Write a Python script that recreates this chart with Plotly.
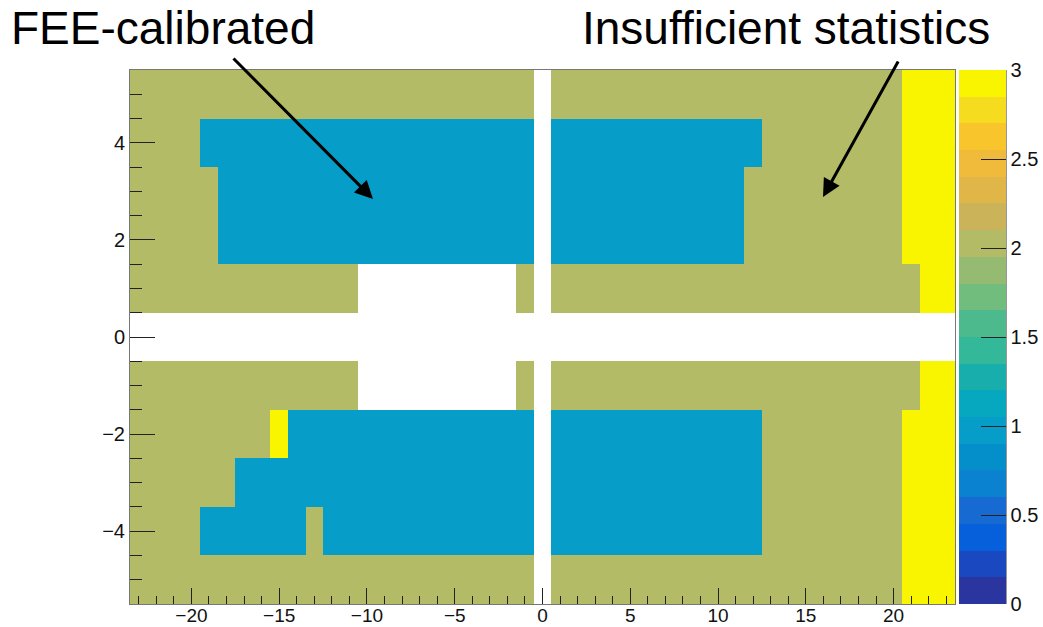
import plotly.graph_objects as go

# Bin centres of the 2D map (47 columns x 11 rows)
x_bins = list(range(-23, 24))
y_bins = list(range(-5, 6))

# Per-row cell states as run lengths along x (from x = -23 to +23),
# listed from y = -5 (first) up to y = +5 (last).
# Codes: '.' empty, 'b' = 1 (FEE-calibrated), 'o' = 2 (insufficient statistics), 'y' = 3
row_runs = [
    [("o", 23), (".", 1), ("o", 20), ("y", 3)],                                  # y = -5
    [("o", 4), ("b", 6), ("o", 1), ("b", 12), (".", 1), ("b", 12), ("o", 8), ("y", 3)],  # y = -4
    [("o", 6), ("b", 17), (".", 1), ("b", 12), ("o", 8), ("y", 3)],             # y = -3
    [("o", 8), ("y", 1), ("b", 14), (".", 1), ("b", 12), ("o", 8), ("y", 3)],   # y = -2
    [("o", 13), (".", 9), ("o", 1), (".", 1), ("o", 21), ("y", 2)],             # y = -1
    [(".", 47)],                                                                 # y = 0
    [("o", 13), (".", 9), ("o", 1), (".", 1), ("o", 21), ("y", 2)],             # y = 1
    [("o", 5), ("b", 18), (".", 1), ("b", 11), ("o", 9), ("y", 3)],             # y = 2
    [("o", 5), ("b", 18), (".", 1), ("b", 11), ("o", 9), ("y", 3)],             # y = 3
    [("o", 4), ("b", 19), (".", 1), ("b", 12), ("o", 8), ("y", 3)],             # y = 4
    [("o", 23), (".", 1), ("o", 20), ("y", 3)],                                  # y = 5
]
code_value = {".": None, "b": 1, "o": 2, "y": 3}

z_values = []
for runs in row_runs:
    row = []
    for code, count in runs:
        row.extend([code_value[code]] * count)
    assert len(row) == len(x_bins)
    z_values.append(row)

# Colour-bar tick labels
cbar_ticks = [0, 0.5, 1, 1.5, 2, 2.5, 3]
x_major = [-20, -15, -10, -5, 0, 5, 10, 15, 20]
y_major = [-4, -2, 0, 2, 4]

# 20-level stepped palette from 0 to 3
band_colors = [
    "#2a35a0", "#1948c0", "#0660dc", "#176ad2", "#0a82cf",
    "#058fca", "#069dc8", "#05a8bf", "#17aeab", "#33b99a",
    "#4cba8c", "#71bd7e", "#95bb72", "#b3bb66", "#cab358",
    "#e0b648", "#f0ba3a", "#f8c62c", "#f6dc1e", "#f9f500",
]
n = len(band_colors)
colorscale = []
for i, c in enumerate(band_colors):
    colorscale.append([i / n, c])
    colorscale.append([(i + 1) / n, c])

W, H = 1043, 627
ML, MR, MT, MB = 130, 88, 70, 23
plot_w = W - ML - MR
plot_h = H - MT - MB
FONT = "Liberation Sans, Arial, Helvetica, sans-serif"

fig = go.Figure()
fig.add_trace(go.Heatmap(
    x=x_bins, y=y_bins, z=z_values,
    zmin=0, zmax=3,
    colorscale=colorscale,
    hoverongaps=False,
    colorbar=dict(
        x=1 + 4 / plot_w, xanchor="left", xpad=0,
        y=0.5, yanchor="middle", len=1, ypad=0,
        thickness=47,
        outlinewidth=0,
        tickvals=cbar_ticks,
        ticktext=[f"{v:g}" for v in cbar_ticks],
        ticks="inside", ticklen=25, tickcolor="#222", tickwidth=1,
        tickfont=dict(family=FONT, size=20, color="#111"),
    ),
))

# dark axis line on the palette's right edge
cb_right = 1 + (4 + 47) / plot_w
fig.add_shape(type="line", xref="paper", yref="paper",
              x0=cb_right, x1=cb_right, y0=0, y1=1,
              line=dict(color="#333", width=1))

fig.update_xaxes(
    range=[-23.5, 23.5], showgrid=False, zeroline=False,
    tickvals=x_major, ticks="inside", ticklen=16, tickcolor="#222",
    minor=dict(dtick=1, tick0=0, ticks="inside", ticklen=8, tickcolor="#222"),
    tickfont=dict(family=FONT, size=19, color="#111"),
    showline=True, linecolor="#777", linewidth=1, mirror=True,
    ticklabelstandoff=-6,
)
fig.update_yaxes(
    range=[-5.5, 5.5], showgrid=False, zeroline=False,
    tickvals=y_major, ticks="inside", ticklen=25, tickcolor="#222",
    minor=dict(dtick=0.5, tick0=0, ticks="inside", ticklen=12, tickcolor="#222"),
    tickfont=dict(family=FONT, size=20, color="#111"),
    showline=True, linecolor="#777", linewidth=1, mirror=True,
    ticklabelstandoff=0,
)

def px_to_paper(px, py):
    return (px - ML) / plot_w, (H - MB - py) / plot_h

label_font = dict(family=FONT, size=46, color="#000")
lx, ly = px_to_paper(9, 28)
rx, ry = px_to_paper(580, 28)
fig.add_annotation(text="FEE-calibrated", xref="paper", yref="paper",
                   x=lx, y=ly, xanchor="left", yanchor="middle",
                   showarrow=False, font=label_font)
fig.add_annotation(text="Insufficient statistics", xref="paper", yref="paper",
                   x=rx, y=ry, xanchor="left", yanchor="middle",
                   showarrow=False, font=label_font)

# arrows pointing from the labels into the map (tail offsets in pixels)
arrows = [((232, 57), (373, 199)), ((899, 60), (823, 197))]
for (sx, sy), (tx, ty) in arrows:
    tx_, ty_ = px_to_paper(tx, ty)
    fig.add_annotation(text="", xref="paper", yref="paper",
                       x=tx_, y=ty_, ax=sx - tx, ay=sy - ty,
                       showarrow=True, arrowhead=2, arrowsize=1.2,
                       arrowwidth=3, arrowcolor="#000", standoff=0)

fig.update_layout(
    width=W, height=H,
    margin=dict(l=ML, r=MR, t=MT, b=MB, pad=0, autoexpand=False),
    paper_bgcolor="white", plot_bgcolor="white",
    showlegend=False,
)

fig.write_html("out.html")
